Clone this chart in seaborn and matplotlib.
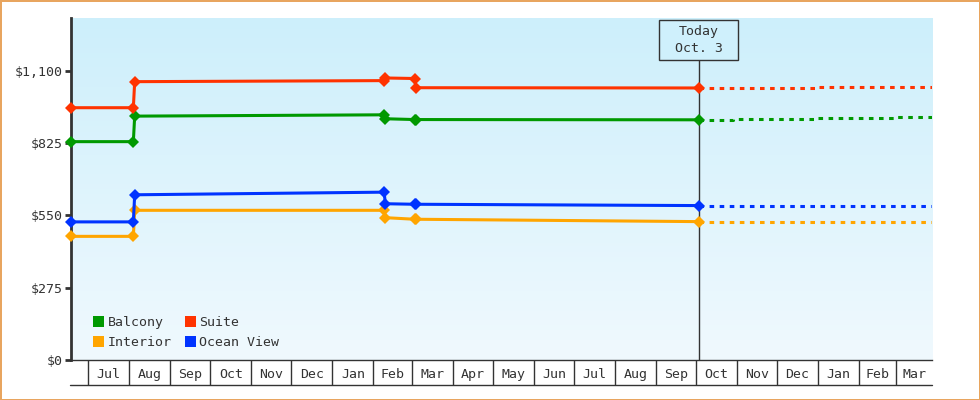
import numpy as np
import pandas as pd
import matplotlib
matplotlib.use("Agg")
import matplotlib.pyplot as plt
import matplotlib.dates as mdates
import seaborn as sns
from matplotlib.colors import LinearSegmentedColormap
from matplotlib.patches import Patch, Rectangle
from matplotlib.lines import Line2D
from matplotlib.transforms import blended_transform_factory

# price history (solid, with markers)
hist_dates = ["2023-06-18", "2023-08-04", "2023-08-05", "2024-02-09",
              "2024-02-10", "2024-03-03", "2024-03-04", "2024-10-03"]
balcony_hist = [830, 830, 927, 932, 917, 914, 914, 913]
suite_hist = [959, 959, 1058, 1062, 1072, 1070, 1035, 1034]
interior_hist = [470, 470, 569, 569, 541, 535, 535, 526]
ocean_hist = [525, 525, 628, 638, 594, 592, 592, 587]

# projected prices (dotted)
proj_dates = ["2024-10-03", "2024-10-29", "2024-12-30", "2025-01-01",
              "2025-02-27", "2025-03-28"]
balcony_proj = [913, 917, 917, 921, 925, 925]
suite_proj = [1034, 1034, 1038, 1038, 1038, 1038]
interior_proj = [526, 526, 526, 526, 526, 526]
ocean_proj = [587, 587, 587, 587, 587, 587]

series = ["Balcony", "Interior", "Suite", "Ocean View"]
colors = {"Balcony": "#009900", "Suite": "#ff3300",
          "Interior": "#ffa500", "Ocean View": "#0033ff"}
hist = {"Balcony": balcony_hist, "Suite": suite_hist,
        "Interior": interior_hist, "Ocean View": ocean_hist}
proj = {"Balcony": balcony_proj, "Suite": suite_proj,
        "Interior": interior_proj, "Ocean View": ocean_proj}

y_ticks = [0, 275, 550, 825, 1100]
month_labels = ["Jul", "Aug", "Sep", "Oct", "Nov", "Dec", "Jan", "Feb", "Mar",
                "Apr", "May", "Jun", "Jul", "Aug", "Sep", "Oct", "Nov", "Dec",
                "Jan", "Feb", "Mar"]
today = "2024-10-03"
today_label = "Today\nOct. 3"
x_start, x_end = "2023-06-18", "2025-03-28"

sns.set_style("ticks")
plt.rcParams["font.family"] = ["DejaVu Sans Mono", "DejaVu Sans"]
dark = "#333333"
fs = 9.5

fig = plt.figure(figsize=(9.8, 4), dpi=100)
fig.patch.set_edgecolor("#e8a55f")
fig.patch.set_linewidth(2)
ax = fig.add_axes([71 / 980, 40 / 400, 861 / 980, 342 / 400])

for name in series:
    dh = pd.DataFrame({"date": pd.to_datetime(hist_dates), "price": hist[name]})
    dp = pd.DataFrame({"date": pd.to_datetime(proj_dates), "price": proj[name]})
    sns.lineplot(data=dh, x="date", y="price", ax=ax, color=colors[name],
                 linewidth=2.2, marker="D", markersize=6.3,
                 markeredgewidth=0, sort=False, zorder=3, clip_on=False)
    sns.lineplot(data=dp, x="date", y="price", ax=ax, color=colors[name],
                 linewidth=2.2, linestyle=(0, (1.5, 1.8)),
                 drawstyle="steps-post", sort=False, zorder=3)

# gradient background
cmap = LinearSegmentedColormap.from_list("bg", ["#f0f9fe", "#cdeffb"])
ax.imshow(np.linspace(0, 1, 256).reshape(-1, 1), cmap=cmap, origin="lower",
          extent=[0, 1, 0, 1], transform=ax.transAxes, aspect="auto", zorder=0)

ax.set_xlim(pd.Timestamp(x_start), pd.Timestamp(x_end))
ax.set_ylim(0, 1300)
ax.set_xlabel("")
ax.set_ylabel("")

# y axis
ax.set_yticks(y_ticks)
ax.set_yticklabels(["${:,.0f}".format(v) for v in y_ticks])
ax.tick_params(axis="y", direction="out", length=4, width=2, color=dark,
               labelcolor=dark, labelsize=fs, pad=2)

# x axis: month boundaries as long ticks, labels centred in each box
bounds = pd.date_range("2023-07-01", "2025-03-01", freq="MS")
edges = list(bounds) + [pd.Timestamp(x_end)]
centers = [a + (b - a) / 2 for a, b in zip(edges[:-1], edges[1:])]
ax.set_xticks(mdates.date2num(bounds))
ax.set_xticklabels([""] * len(bounds))
ax.set_xticks(mdates.date2num(centers), minor=True)
ax.set_xticklabels(month_labels, minor=True)
ax.tick_params(axis="x", which="major", direction="out", length=18,
               width=1, color=dark)
ax.tick_params(axis="x", which="minor", length=0, pad=6, labelsize=fs,
               labelcolor=dark)

for s in ["top", "right"]:
    ax.spines[s].set_visible(False)
ax.spines["left"].set_linewidth(2)
ax.spines["left"].set_color(dark)
ax.spines["bottom"].set_linewidth(1)
ax.spines["bottom"].set_color(dark)

fig.add_artist(Line2D([70 / 980, 932 / 980], [15 / 400, 15 / 400],
                      color=dark, lw=1))

# today marker
t = pd.Timestamp(today)
box_bottom = (360 - 60) / 342
box_top = (360 - 20) / 342
ax.axvline(t, ymin=0, ymax=box_bottom, color=dark, lw=1, zorder=2)
tr = blended_transform_factory(ax.transData, ax.transAxes)
x0 = mdates.date2num(t - pd.Timedelta(days=30))
ax.add_patch(Rectangle((x0, box_bottom), 60, box_top - box_bottom,
                       transform=tr, facecolor="#cff0fc", edgecolor=dark,
                       lw=1, zorder=4))
ax.text(t, (box_bottom + box_top) / 2, today_label, transform=tr,
        ha="center", va="center", fontsize=fs, color=dark,
        linespacing=1.35, zorder=5)

handles = [Patch(facecolor=colors[n], edgecolor="none", label=n) for n in series]
ax.legend(handles=handles, ncol=2, loc="lower left",
          bbox_to_anchor=(0.012, -0.002), frameon=False, fontsize=fs,
          handlelength=0.85, handleheight=0.85, handletextpad=0.25,
          columnspacing=1.0, labelspacing=0.5, labelcolor=dark)

fig.savefig("out.png", dpi=100, edgecolor=fig.get_edgecolor())
